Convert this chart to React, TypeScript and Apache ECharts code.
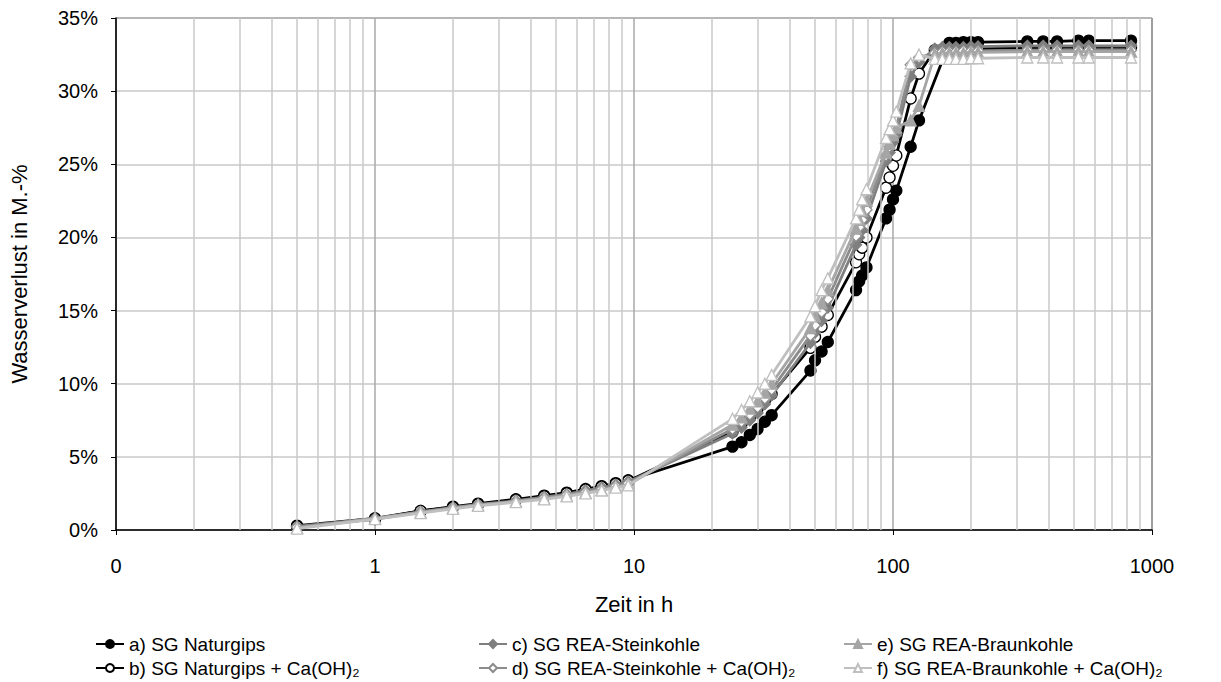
import React, { useEffect, useRef } from "react";
import * as echarts from "echarts";

const times = [0.5, 1, 1.5, 2, 2.5, 3.5, 4.5, 5.5, 6.5, 7.5, 8.5, 9.5, 24, 26, 28, 30, 32, 34, 48, 50, 53, 56, 72, 74, 76, 79, 94, 97, 100, 103, 117, 126, 145, 155, 165, 175, 187, 200, 213, 330, 380, 430, 520, 570, 830];

const seriesA = [0.3, 0.8, 1.3, 1.6, 1.8, 2.1, 2.35, 2.55, 2.8, 3.0, 3.2, 3.4, 5.7, 6.0, 6.5, 6.9, 7.4, 7.85, 10.9, 11.6, 12.2, 12.85, 16.4, 17.0, 17.4, 17.95, 21.3, 21.9, 22.6, 23.2, 26.2, 28.0, null, null, 33.3, 33.3, 33.35, 33.35, 33.35, 33.4, 33.4, 33.4, 33.45, 33.45, 33.45];
const seriesB = [0.25, 0.75, 1.3, 1.55, 1.75, 2.05, 2.3, 2.5, 2.75, 2.95, 3.15, 3.35, 6.7, 7.25, 7.7, 8.3, 8.85, 9.3, 12.45, 13.2, 13.9, 14.7, 18.3, 18.85, 19.3, 20.0, 23.4, 24.1, 24.9, 25.6, 29.5, 31.2, 32.8, 32.85, 32.9, 32.9, 32.9, 32.9, 32.9, 32.95, 32.95, 33.0, 33.0, 33.0, 33.0];
const seriesC = [0.25, 0.8, 1.25, 1.55, 1.75, 2.0, 2.25, 2.45, 2.7, 2.9, 3.1, 3.3, 6.6, 7.0, 7.5, 8.0, 8.6, 9.2, 12.8, 13.5, 14.3, 15.2, 19.5, 20.0, 20.5, 21.3, 25.2, 25.8, 26.5, 27.0, 31.0, 32.0, 32.9, 33.0, 33.0, 33.0, 33.0, 33.05, 33.05, 33.1, 33.1, 33.1, 33.1, 33.1, 33.1];
const seriesD = [0.2, 0.75, 1.2, 1.5, 1.7, 1.95, 2.2, 2.4, 2.6, 2.8, 3.0, 3.2, 6.9, 7.4, 7.9, 8.4, 9.0, 9.6, 13.3, 14.0, 14.9, 15.8, 20.1, 20.7, 21.2, 21.9, 25.6, 26.2, 26.9, 27.5, 31.8, 32.3, 32.6, 32.7, 32.7, 32.7, 32.75, 32.75, 32.75, 32.8, 32.8, 32.8, 32.8, 32.8, 32.8];
const seriesE = [0.15, 0.8, 1.2, 1.5, 1.7, 1.95, 2.15, 2.35, 2.55, 2.75, 2.95, 3.1, 7.2, 7.7, 8.3, 8.8, 9.4, 10.0, 13.8, 14.6, 15.5, 16.4, 20.6, 21.2, 21.8, 22.5, 25.8, 26.4, 27.0, 27.5, 28.0, 29.0, 32.5, 32.6, 32.6, 32.6, 32.6, 32.65, 32.65, 32.7, 32.7, 32.7, 32.7, 32.7, 32.7];
const seriesF = [0.1, 0.75, 1.15, 1.45, 1.65, 1.9, 2.1, 2.3, 2.5, 2.7, 2.9, 3.05, 7.6, 8.2, 8.8, 9.4, 10.0, 10.6, 14.6, 15.3, 16.4, 17.2, 21.3, 21.9, 22.6, 23.3, 26.8, 27.4, 28.0, 28.6, 31.9, 32.5, 32.2, 32.2, 32.2, 32.2, 32.2, 32.25, 32.25, 32.3, 32.3, 32.3, 32.3, 32.3, 32.3];

const names = [
  "a) SG Naturgips",
  "b) SG Naturgips + Ca(OH)₂",
  "c) SG REA-Steinkohle",
  "d) SG REA-Steinkohle + Ca(OH)₂",
  "e) SG REA-Braunkohle",
  "f) SG REA-Braunkohle + Ca(OH)₂",
];

const minorGridValues = [0.2, 0.3, 0.4, 0.5, 0.6, 0.7, 0.8, 0.9, 2, 3, 4, 5, 6, 7, 8, 9, 20, 30, 40, 50, 60, 70, 80, 90, 200, 300, 400, 500, 600, 700, 800, 900];

const yTicks = { min: 0, max: 35, interval: 5 };

const FONT = "'Liberation Sans', Arial, sans-serif";

function pairs(vals: (number | null)[]) {
  return times.map((t, i) => [t, vals[i]]);
}

export default function App() {
  const ref = useRef<HTMLDivElement>(null);
  useEffect(() => {
    if (!ref.current) return;
    const chart = echarts.init(ref.current, undefined, { renderer: "svg" });
    const styles = [
      { data: seriesA, line: "#000000", symbol: "circle", fill: "#000000", border: "#000000", size: 11 },
      { data: seriesB, line: "#000000", symbol: "circle", fill: "#ffffff", border: "#000000", size: 11 },
      { data: seriesC, line: "#7f7f7f", symbol: "diamond", fill: "#7f7f7f", border: "#7f7f7f", size: 11 },
      { data: seriesD, line: "#8c8c8c", symbol: "diamond", fill: "#ffffff", border: "#8c8c8c", size: 11 },
      { data: seriesE, line: "#a5a5a5", symbol: "triangle", fill: "#a5a5a5", border: "#a5a5a5", size: 11 },
      { data: seriesF, line: "#bfbfbf", symbol: "triangle", fill: "#ffffff", border: "#bfbfbf", size: 11 },
    ];
    const series: any[] = styles.map((s, i) => ({
      name: names[i],
      type: "line",
      data: pairs(s.data),
      connectNulls: true,
      symbol: s.symbol,
      symbolSize: s.size,
      showSymbol: true,
      lineStyle: { color: s.line, width: 2.8 },
      itemStyle: { color: s.fill, borderColor: s.border, borderWidth: 1.3 },
      z: 3 + i,
    }));
    series.unshift({
      type: "line",
      data: [],
      silent: true,
      markLine: {
        silent: true,
        symbol: "none",
        label: { show: false },
        lineStyle: { color: "#c8c8c8", width: 1.5, type: "solid" },
        data: minorGridValues.map((v) => ({ xAxis: v })),
      },
      z: 1,
    });
    const legendBase = {
      orient: "vertical",
      top: 634,
      padding: 0,
      itemGap: 4,
      itemWidth: 28,
      itemHeight: 10,
      textStyle: { fontSize: 19, lineHeight: 20, color: "#000", fontFamily: FONT },
    };
    chart.setOption({
      animation: false,
      backgroundColor: "#ffffff",
      textStyle: { fontFamily: FONT },
      grid: {
        left: 116,
        right: 69,
        top: 18,
        bottom: 152,
        show: true,
        borderColor: "#000",
        borderWidth: 1,
        backgroundColor: "transparent",
      },
      legend: [
        { ...legendBase, left: 95, data: [names[0], names[1]] },
        { ...legendBase, left: 478, data: [names[2], names[3]] },
        { ...legendBase, left: 843, data: [names[4], names[5]] },
      ],
      xAxis: {
        type: "log",
        logBase: 10,
        min: 0.1,
        max: 1000,
        splitNumber: 4,
        name: "Zeit in h",
        nameLocation: "middle",
        nameGap: 63,
        nameTextStyle: { fontSize: 22, color: "#000", fontFamily: FONT },
        axisLine: { show: true, lineStyle: { color: "#000", width: 1.5 } },
        axisTick: { show: true, inside: false, length: 5, lineStyle: { color: "#000" } },
        axisLabel: {
          fontSize: 20,
          color: "#000",
          margin: 26,
          fontFamily: FONT,
          formatter: (v: number) => (v < 0.99 ? "0" : String(Math.round(v))),
        },
        splitLine: { show: true, lineStyle: { color: "#a8a8a8", width: 1.5 } },
      },
      yAxis: {
        type: "value",
        min: yTicks.min,
        max: yTicks.max,
        interval: yTicks.interval,
        name: "Wasserverlust in M.-%",
        nameLocation: "middle",
        nameGap: 86,
        nameTextStyle: { fontSize: 22, color: "#000", fontFamily: FONT },
        axisLine: { show: true, lineStyle: { color: "#000", width: 1.5 } },
        axisTick: { show: true, inside: false, length: 5, lineStyle: { color: "#000" } },
        axisLabel: {
          fontSize: 20,
          color: "#000",
          margin: 18,
          fontFamily: FONT,
          formatter: (v: number) => v + "%",
        },
        splitLine: { show: true, lineStyle: { color: "#c8c8c8", width: 1.5 } },
      },
      series,
    });
    return () => chart.dispose();
  }, []);
  return (
    <div
      ref={ref}
      style={{ position: "absolute", left: 0, top: 0, width: 1221, height: 682 }}
    />
  );
}
